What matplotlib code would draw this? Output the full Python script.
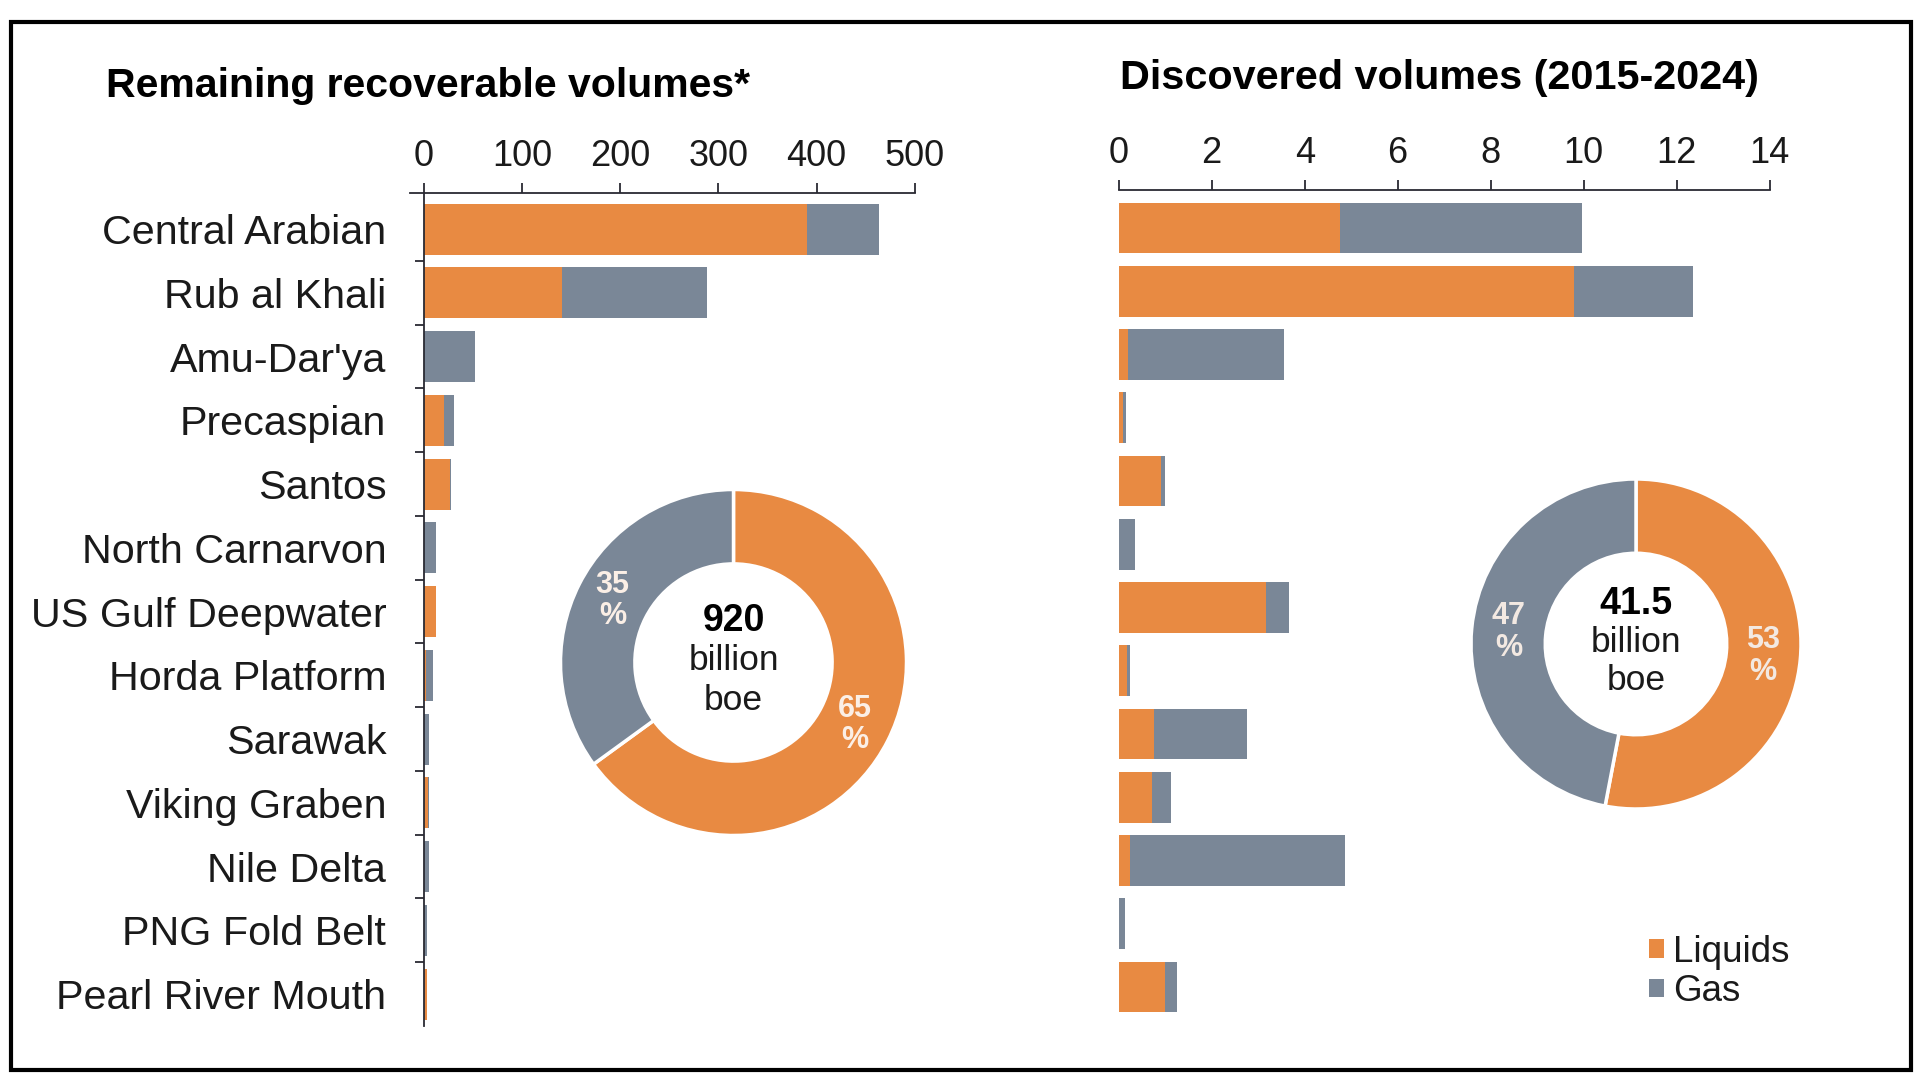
import matplotlib
matplotlib.use("Agg")
import matplotlib.pyplot as plt
from matplotlib.patches import Rectangle
import numpy as np

plt.rcParams['font.family'] = ['Liberation Sans', 'DejaVu Sans']

# ---------------- data ----------------
basins = ["Central Arabian", "Rub al Khali", "Amu-Dar'ya", "Precaspian", "Santos",
          "North Carnarvon", "US Gulf Deepwater", "Horda Platform", "Sarawak",
          "Viking Graben", "Nile Delta", "PNG Fold Belt", "Pearl River Mouth"]

# Remaining recoverable volumes (billion boe)
remaining_liquids = [390, 141, 0, 21, 26.5, 0, 12, 2, 0, 4.5, 0, 0, 3.5]
remaining_gas     = [74, 147, 52, 9.5, 1.7, 12, 0.5, 7, 5, 0.5, 5, 3.5, 0]

# Discovered volumes 2015-2024 (billion boe)
discovered_liquids = [4.76, 9.80, 0.19, 0.10, 0.90, 0.0, 3.17, 0.17, 0.75, 0.71, 0.24, 0.0, 1.00]
discovered_gas     = [5.21, 2.55, 3.36, 0.05, 0.10, 0.36, 0.50, 0.07, 2.00, 0.42, 4.63, 0.14, 0.25]

left_ticks = [0, 100, 200, 300, 400, 500]
right_ticks = [0, 2, 4, 6, 8, 10, 12, 14]

remaining_share = [65, 35]      # liquids, gas (%)
discovered_share = [53, 47]
remaining_total = "920"
discovered_total = "41.5"

series_names = ["Liquids", "Gas"]

ORANGE = "#E88A42"
GRAY = "#7A8797"
DARK = "#2a2a33"
TEXT = "#1a1a1a"

W, H = 1920, 1081
fig = plt.figure(figsize=(W / 100, H / 100), dpi=100)


def fx(px):
    return px / W


def fy(px):
    return 1 - px / H


y = np.arange(len(basins))

# ---------------- left bar chart ----------------
axL = fig.add_axes([fx(410), fy(1026), fx(504.7), (1026 - 193.5) / H])
axL.barh(y, remaining_liquids, height=0.8, color=ORANGE, label=series_names[0])
axL.barh(y, remaining_gas, left=remaining_liquids, height=0.8, color=GRAY, label=series_names[1])
axL.set_xlim(-14, 500)
axL.set_ylim(12.5, -0.557)
axL.xaxis.tick_top()
axL.set_xticks(left_ticks)
axL.set_xticklabels([str(t) for t in left_ticks])
axL.tick_params(axis='x', direction='out', length=7, width=1.3, color=DARK,
                labelsize=26, pad=7, labelcolor=TEXT)
axL.set_yticks(y)
axL.set_yticklabels(basins)
axL.tick_params(axis='y', which='major', length=0, pad=27, labelsize=29.7, labelcolor=TEXT)
axL.set_yticks(y[:-1] + 0.5, minor=True)
axL.tick_params(axis='y', which='minor', direction='out', length=6.5, width=1.3, color=DARK)
for s in ['right', 'bottom']:
    axL.spines[s].set_visible(False)
axL.spines['left'].set_position(('data', 0))
for s in ['left', 'top']:
    axL.spines[s].set_color(DARK)
    axL.spines[s].set_linewidth(1.3)
axL.set_facecolor('none')

# ---------------- right bar chart ----------------
axR = fig.add_axes([fx(1118.75), fy(1018.6), fx(650.85), (1018.6 - 190) / H])
axR.barh(y, discovered_liquids, height=0.8, color=ORANGE, label=series_names[0])
axR.barh(y, discovered_gas, left=discovered_liquids, height=0.8, color=GRAY, label=series_names[1])
axR.set_xlim(0, 14)
axR.set_ylim(12.5, -0.6)
axR.xaxis.tick_top()
axR.set_xticks(right_ticks)
axR.set_xticklabels([str(t) for t in right_ticks])
axR.tick_params(axis='x', direction='out', length=7, width=1.3, color=DARK,
                labelsize=26, pad=7, labelcolor=TEXT)
axR.set_yticks([])
for s in ['right', 'bottom', 'left']:
    axR.spines[s].set_visible(False)
axR.spines['top'].set_color(DARK)
axR.spines['top'].set_linewidth(1.3)
axR.set_facecolor('none')

leg = axR.legend(loc='center left', bbox_to_anchor=(fx(1627), fy(972)),
                 bbox_transform=fig.transFigure, frameon=False,
                 handlelength=0.4, handleheight=0.4, handletextpad=0.25,
                 labelspacing=0.12, fontsize=26.5, borderpad=0.1)
for t in leg.get_texts():
    t.set_color(TEXT)


# ---------------- donuts ----------------
def donut(cx, cy, r, shares, width, total, pct_color):
    ax = fig.add_axes([fx(cx - r), fy(cy + r), fx(2 * r), 2 * r / H])
    wedges, _ = ax.pie(shares, colors=[ORANGE, GRAY], startangle=90, counterclock=False,
                       radius=1, wedgeprops=dict(width=width, edgecolor='white', linewidth=2.5))
    ax.set_xlim(-1, 1)
    ax.set_ylim(-1, 1)
    ax.set_aspect('equal')
    rmid = 1 - width / 2
    for w, s in zip(wedges, shares):
        ang = np.deg2rad((w.theta1 + w.theta2) / 2)
        ax.text(rmid * np.cos(ang), rmid * np.sin(ang), f"{s}\n%", ha='center', va='center',
                fontsize=22, fontweight='bold', color=pct_color, linespacing=1.05)
    ax.text(0, 0.24, total, ha='center', va='center', fontsize=27, fontweight='bold', color='black')
    ax.text(0, 0.01, "billion", ha='center', va='center', fontsize=25.5, color=TEXT)
    ax.text(0, -0.22, "boe", ha='center', va='center', fontsize=25.5, color=TEXT)
    return ax


donut(733.5, 662.5, 173, remaining_share, 0.43, remaining_total, "#FBEFE6")
donut(1636, 644, 165, discovered_share, 0.45, discovered_total, "#F3E9E2")

# ---------------- titles ----------------
fig.text(fx(106), fy(86), "Remaining recoverable volumes*", ha='left', va='center',
         fontsize=29.5, fontweight='bold', color='black')
fig.text(fx(1120), fy(78), "Discovered volumes (2015-2024)", ha='left', va='center',
         fontsize=29.8, fontweight='bold', color='black')

# ---------------- border ----------------
fig.patches.append(Rectangle((fx(11), fy(1070)), fx(1900), (1070 - 22) / H,
                             transform=fig.transFigure, fill=False,
                             edgecolor='black', linewidth=3))

fig.savefig("out.png", dpi=100, facecolor='white')
